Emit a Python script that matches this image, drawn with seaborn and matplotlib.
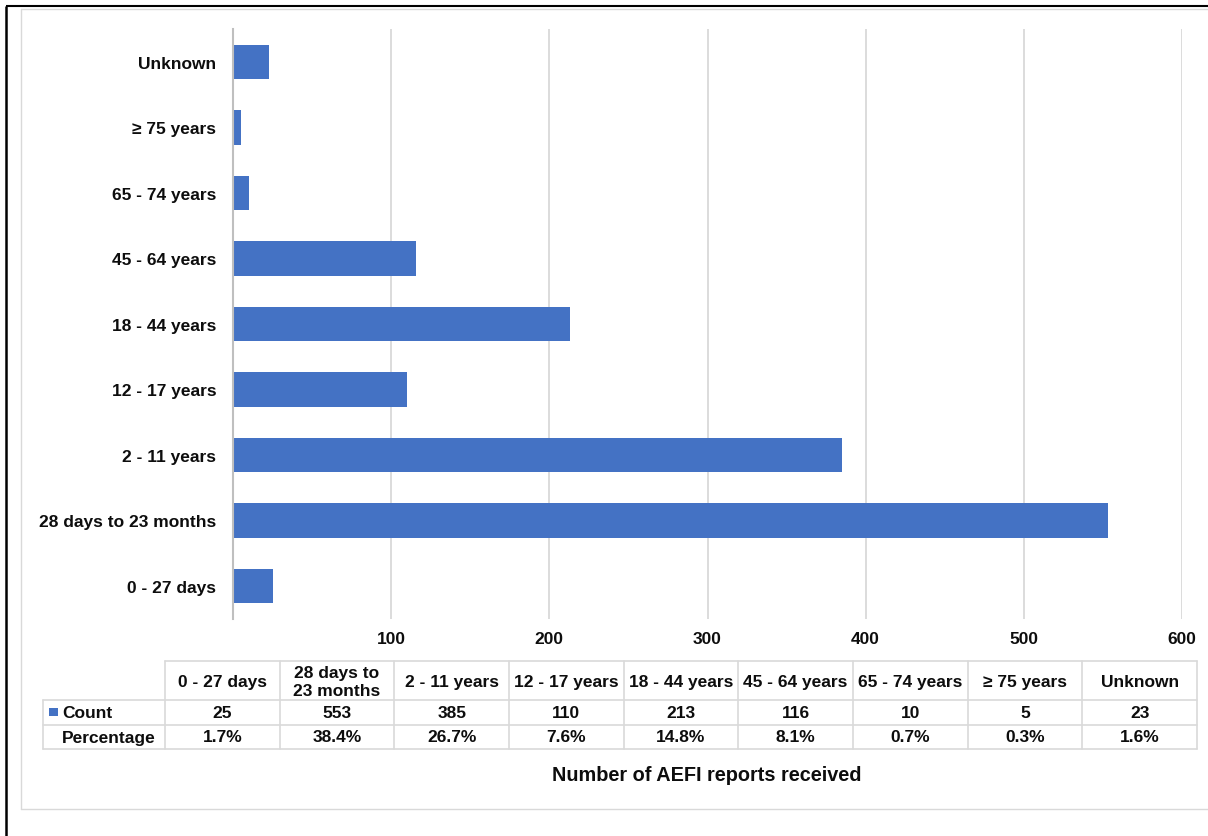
import matplotlib
matplotlib.use("Agg")
import matplotlib.pyplot as plt
import seaborn as sns
import pandas as pd

# Age groups (bottom to top on the chart, left to right in the table)
categories = ["0 - 27 days", "28 days to 23 months", "2 - 11 years", "12 - 17 years",
              "18 - 44 years", "45 - 64 years", "65 - 74 years", "\u2265 75 years", "Unknown"]
header_labels = ["0 - 27 days", "28 days to\n23 months", "2 - 11 years", "12 - 17 years",
                 "18 - 44 years", "45 - 64 years", "65 - 74 years", "\u2265 75 years", "Unknown"]
counts = [25, 553, 385, 110, 213, 116, 10, 5, 23]
percentages = [1.7, 38.4, 26.7, 7.6, 14.8, 8.1, 0.7, 0.3, 1.6]
x_ticks = [100, 200, 300, 400, 500, 600]
axis_title = "Number of AEFI reports received"
series_names = ["Count", "Percentage"]

BAR = "#4472C4"
GRID = "#d9d9d9"
AXIS = "#bfbfbf"
TEXT = "#0d0d0d"
FS = 12.5

sns.set_theme(style="white")
plt.rcParams["font.family"] = ["Liberation Sans", "DejaVu Sans"]
plt.rcParams["font.weight"] = "bold"

W, H = 1208, 837
fig = plt.figure(figsize=(W / 100, H / 100), dpi=100)
fig.patch.set_facecolor("white")

# Main bar chart
ax = fig.add_axes([233 / W, 1 - 619.75 / H, (1182 - 233) / W, (619.75 - 30.25) / H])
df = pd.DataFrame({"group": categories, "count": counts})
order = categories[::-1]
sns.barplot(data=df, x="count", y="group", order=order, orient="h", color=BAR,
            saturation=1, width=0.52, linewidth=0, ax=ax)
ax.set_xlim(0, 600)
ax.set_xticks(x_ticks)
ax.set_xticklabels([str(v) for v in x_ticks], fontsize=FS, fontweight="bold", color=TEXT)
ax.tick_params(axis="x", length=0, pad=9)
ax.set_yticks(range(len(order)))
ax.set_yticklabels(order, fontsize=FS, fontweight="bold", color=TEXT)
ax.tick_params(axis="y", which="major", length=0, pad=12)
ax.set_yticks([i - 0.5 for i in range(len(order) + 1)], minor=True)
ax.tick_params(axis="y", which="minor", length=11, direction="inout", color=AXIS, width=1.3)
ax.set_xlabel("")
ax.set_ylabel("")
ax.xaxis.grid(True, color=GRID, lw=1.3)
ax.yaxis.grid(False)
ax.set_axisbelow(True)
for s in ["top", "right", "bottom"]:
    ax.spines[s].set_visible(False)
ax.spines["left"].set_color(AXIS)
ax.spines["left"].set_linewidth(1.5)

# Overlay in pixel coordinates for the data table and frames
ov = fig.add_axes([0, 0, 1, 1], zorder=5)
ov.set_xlim(0, W)
ov.set_ylim(H, 0)
ov.axis("off")
ov.patch.set_alpha(0)

# Frames
ov.plot([6, W], [7, 7], color="black", lw=1.5, solid_capstyle="butt")
ov.plot([6, 6], [7, H], color="black", lw=1.8, solid_capstyle="butt")
ov.plot([21, W], [10, 10], color=GRID, lw=1.0)
ov.plot([21, 21], [10, 810], color=GRID, lw=1.0)
ov.plot([21, W], [810, 810], color=GRID, lw=1.0)

# Data table
label_left, col0 = 43, 165
col_right = 1197
ncol = len(categories)
cw = (col_right - col0) / ncol
row_y = [662, 701, 726, 750]
lw_t = 1.2
# horizontal lines
ov.plot([col0, col_right], [row_y[0], row_y[0]], color=GRID, lw=lw_t)
for y in row_y[1:]:
    ov.plot([label_left, col_right], [y, y], color=GRID, lw=lw_t)
# vertical lines
ov.plot([label_left, label_left], [row_y[1], row_y[3]], color=GRID, lw=lw_t)
for i in range(ncol + 1):
    x = col0 + i * cw
    ov.plot([x, x], [row_y[0], row_y[3]], color=GRID, lw=lw_t)

txt = dict(fontsize=FS, fontweight="bold", color=TEXT)
for i, (hl, c, p) in enumerate(zip(header_labels, counts, percentages)):
    cx = col0 + (i + 0.5) * cw
    ov.text(cx, (row_y[0] + row_y[1]) / 2 + 1, hl, ha="center", va="center",
            linespacing=1.3, **txt)
    ov.text(cx, (row_y[1] + row_y[2]) / 2, f"{c}", ha="center", va="center", **txt)
    ov.text(cx, (row_y[2] + row_y[3]) / 2, f"{p:.1f}%", ha="center", va="center", **txt)

# Row labels with legend key
ov.add_patch(plt.Rectangle((49, 709), 9, 8, color=BAR, lw=0))
ov.text(62, (row_y[1] + row_y[2]) / 2, series_names[0], ha="left", va="center", **txt)
ov.text(62, (row_y[2] + row_y[3]) / 2, series_names[1], ha="left", va="center", **txt)

# Axis title
ov.text(707, 776, axis_title, ha="center", va="center", fontsize=14.3,
        fontweight="bold", color=TEXT)

fig.savefig("out.png", dpi=100, facecolor="white")
